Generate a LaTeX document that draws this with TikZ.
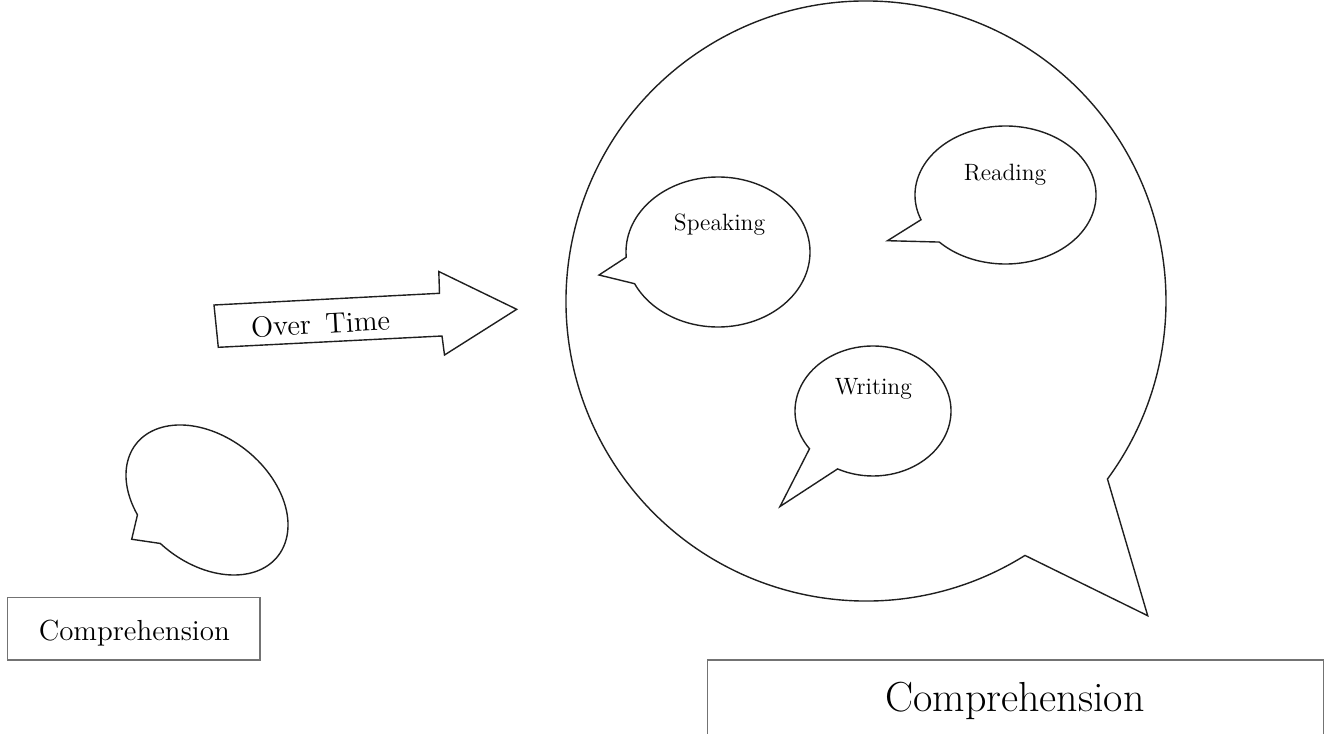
\documentclass[tikz,border=0pt]{standalone}
\usetikzlibrary{calc}
\begin{document}
\begin{tikzpicture}[x=0.5pt,y=-0.5pt,
  bubble/.style={draw=black!88, line width=0.7pt, line join=miter},
  boxline/.style={draw=black!55, line width=0.8pt},
  lbl/.style={font=\fontsize{11.8}{14}\selectfont, inner sep=0pt, anchor=base}]
\useasboundingbox (0,0) rectangle (1326,733);
\clip (0,0) rectangle (1326,733);

% ---- big speech bubble
\coordinate (bigc) at (866,301);
\coordinate (bigtip) at (1147.7,615.7);
\draw[bubble] ($(bigc)+(58:300)$) arc[start angle=58, end angle=396.4, radius=300] -- (bigtip) -- cycle;

% ---- Speaking bubble
\coordinate (spc) at (718,252);
\coordinate (sptip) at (599,275);
\draw[bubble] ($(spc)+(176:92 and 75)$) arc[start angle=176, end angle=515, x radius=92, y radius=75] -- (sptip) -- cycle;
\node[lbl] (speaking) at (719.5,230.5) {Speaking};

% ---- Reading bubble
\coordinate (rdc) at (1005.5,195);
\coordinate (rdtip) at (887.5,240.7);
\draw[bubble] ($(rdc)+(159:90.5 and 69)$) arc[start angle=159, end angle=497, x radius=90.5, y radius=69] -- (rdtip) -- cycle;
\node[lbl] (reading) at (1005,180) {Reading};

% ---- Writing bubble
\coordinate (wrc) at (873,411);
\coordinate (wrtip) at (780,506.5);
\draw[bubble] ($(wrc)+(144.5:78 and 65)$) arc[start angle=144.5, end angle=477, x radius=78, y radius=65] -- (wrtip) -- cycle;
\node[lbl] (writing) at (873.3,394) {Writing};

% ---- small tilted bubble
\begin{scope}[shift={(207,500)}, rotate=-38.5]
  \coordinate (smtip) at (-34.5,77.6);
  \draw[bubble] (120:90.4 and 63.4) arc[start angle=120, end angle=456, x radius=90.4, y radius=63.4] -- (smtip) -- cycle;
\end{scope}

% ---- Over Time arrow
\coordinate (a1) at (214,305);
\coordinate (a2) at (439.5,293.3);
\coordinate (a3) at (438.8,271.5);
\coordinate (a4) at (516.7,309.3);
\coordinate (a5) at (444.5,355);
\coordinate (a6) at (442,336);
\coordinate (a7) at (218.3,347.3);
\draw[bubble] (a1) -- (a2) -- (a3) -- (a4) -- (a5) -- (a6) -- (a7) -- cycle;
\node[font=\fontsize{14.5}{17}\selectfont, inner sep=0pt, rotate=3] (overtime) at (320.5,323.5) {Over\hspace{0.5em}Time};

% ---- small Comprehension box
\draw[boxline] (7.5,597.5) rectangle (260,660);
\node[font=\fontsize{14.5}{17}\selectfont, inner sep=0pt, anchor=base] (compsmall) at (134.3,640) {Comprehension};

% ---- big Comprehension box (runs off the bottom edge)
\draw[boxline] (707.5,740) -- (707.5,660) -- (1323.5,660) -- (1323.5,740);
\node[font=\fontsize{21}{24}\selectfont, inner sep=0pt, anchor=base] (compbig) at (1015,711) {Comprehension};
\end{tikzpicture}
\end{document}
